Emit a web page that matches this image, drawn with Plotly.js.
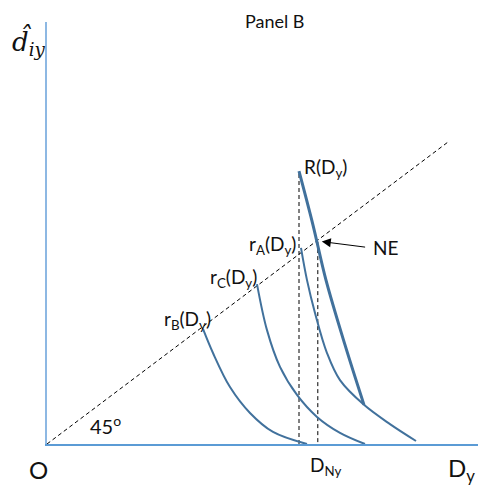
<!DOCTYPE html>
<html><head><meta charset="utf-8">
<script src="https://cdn.plot.ly/plotly-3.0.1.min.js"></script>
<style>body{margin:0;background:#fff}#c{width:479px;height:485px}</style>
</head><body><div id="c"></div>
<script>
// Panel B: reaction curves (arbitrary units, 45-degree line is y = x)
const R_x  = [6.30, 6.65, 6.975, 7.45, 7.925];
const R_y  = [9.06, 7.27, 5.44, 3.29, 1.30];
const rA_x = [6.35, 6.50, 6.70, 7.00, 7.325, 7.925, 8.575, 9.225];
const rA_y = [6.51, 5.44, 4.35, 3.02, 2.12, 1.30, 0.66, 0.10];
const rC_x = [5.25, 5.50, 5.825, 6.25, 6.75, 7.325, 7.95];
const rC_y = [5.31, 3.78, 2.56, 1.63, 0.90, 0.37, 0.00];
const rB_x = [3.90, 4.15, 4.575, 5.075, 5.65, 6.50];
const rB_y = [3.82, 3.02, 1.89, 1.03, 0.40, 0.00];
const line45 = [0, 10.03];
const D_R = 6.30, D_R_top = 9.06;
const D_NE = 6.77, NE_y = 6.74;

const blue = '#41719C';
const dashStyle = {color:'#000', width:1, dash:'4px,3px'};
const traces = [
  {x:line45, y:line45, mode:'lines', line:dashStyle},
  {x:[D_R, D_R], y:[0, D_R_top], mode:'lines', line:dashStyle},
  {x:[D_NE, D_NE], y:[-0.17, NE_y], mode:'lines', line:dashStyle, cliponaxis:false},
  {x:rB_x, y:rB_y, mode:'lines', line:{color:blue, width:2, shape:'spline'}},
  {x:rC_x, y:rC_y, mode:'lines', line:{color:blue, width:2, shape:'spline'}},
  {x:rA_x, y:rA_y, mode:'lines', line:{color:blue, width:2, shape:'spline'}},
  {x:R_x, y:R_y, mode:'lines', line:{color:blue, width:3, shape:'spline'}}
];
const F = 'Lato, "Open Sans", sans-serif';
const txt = '#111';
function lab(x, y, text, size, xanchor, extra) {
  return Object.assign({x:x, y:y, xref:'x', yref:'y', text:text, showarrow:false,
    xanchor:xanchor, yanchor:'middle', font:{family:F, size:size, color:txt}}, extra||{});
}
function plab(x, y, text, size, extra) {
  return Object.assign({x:x, y:y, xref:'paper', yref:'paper', text:text, showarrow:false,
    xanchor:'center', yanchor:'middle', font:{family:F, size:size, color:txt}}, extra||{});
}
const annotations = [
  lab(6.38, 9.16, 'R(D<sub>y</sub>)', 19, 'left'),
  lab(6.27, 6.61, 'r<sub>A</sub>(D<sub>y</sub>)', 19, 'right'),
  lab(5.29, 5.51, 'r<sub>C</sub>(D<sub>y</sub>)', 19, 'right'),
  lab(4.16, 4.12, 'r<sub>B</sub>(D<sub>y</sub>)', 19, 'right'),
  lab(8.10, 6.54, 'NE', 19, 'left'),
  lab(1.47, 0.63, '45<sup>o</sup>', 20, 'center'),
  plab(-0.0197, -0.0616, 'O', 24),
  plab(0.9606, -0.0616, 'D<sub>y</sub>', 24),
  plab(0.647, -0.052, 'D<sub>Ny</sub>', 19),
  plab(0.529, 1.0024, 'Panel B', 18),
  plab(-0.0418, 0.9526, '<i>d̂</i><sub><i>iy</i></sub>', 26, {font:{family:'"DejaVu Serif", serif', size:26, color:txt}}),
  {x:6.87, y:6.72, ax:7.99, ay:6.53, xref:'x', yref:'y', axref:'x', ayref:'y',
   text:'', showarrow:true, arrowhead:2, arrowsize:1.8, arrowwidth:1, arrowcolor:'#000'}
];
const layout = {
  width:479, height:485, showlegend:false,
  paper_bgcolor:'#fff', plot_bgcolor:'#fff',
  margin:{l:47, r:1, t:22, b:41},
  xaxis:{range:[0, 10.775], showgrid:false, zeroline:false, showticklabels:false, ticks:'',
         showline:true, linecolor:'#5B9BD5', linewidth:1.5},
  yaxis:{range:[0, 14.01], showgrid:false, zeroline:false, showticklabels:false, ticks:'',
         showline:true, linecolor:'#8DB8E3', linewidth:2},
  annotations:annotations
};
Plotly.newPlot('c', traces, layout, {displayModeBar:false, staticPlot:true});
</script></body></html>
